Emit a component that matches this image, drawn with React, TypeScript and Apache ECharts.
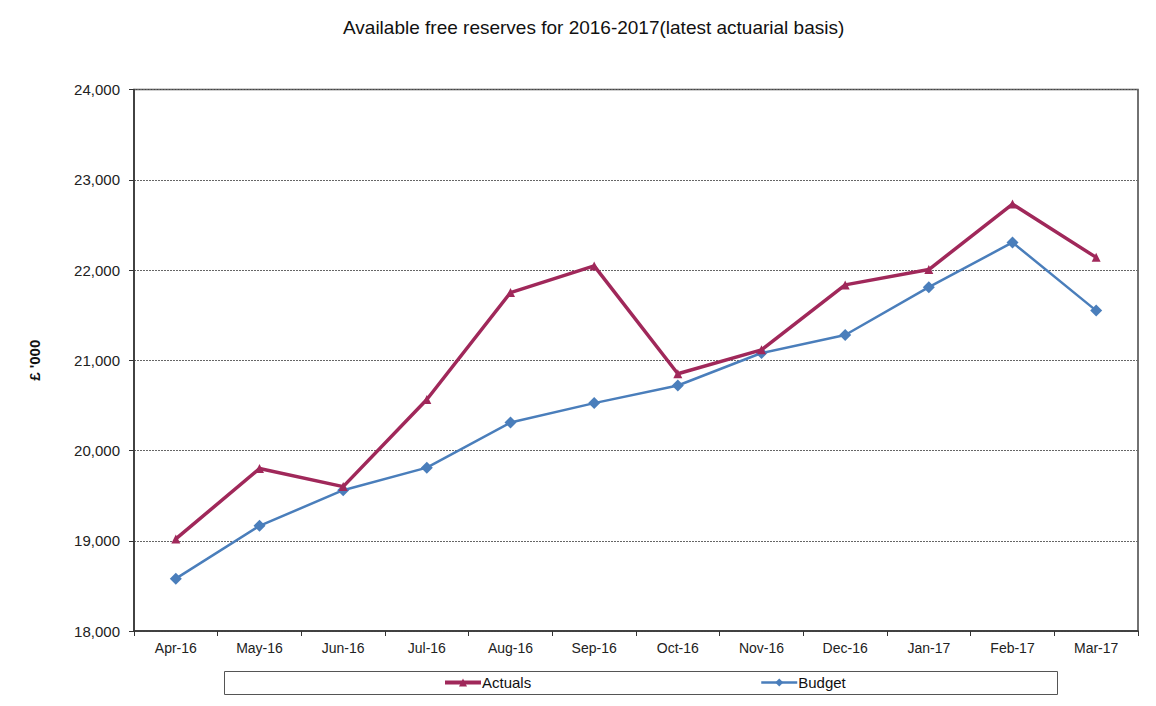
import React, { useEffect, useRef } from "react";
import * as echarts from "echarts";

const categories = ["Apr-16", "May-16", "Jun-16", "Jul-16", "Aug-16", "Sep-16", "Oct-16", "Nov-16", "Dec-16", "Jan-17", "Feb-17", "Mar-17"];
const actuals = [19020, 19800, 19600, 20565, 21750, 22045, 20850, 21115, 21835, 22005, 22730, 22140];
const budget = [18580, 19165, 19560, 19810, 20310, 20525, 20720, 21080, 21280, 21810, 22305, 21550];
const yTicks = { min: 18000, max: 24000, interval: 1000 };

const FONT = "'Liberation Sans', Arial, sans-serif";
const RED = "#A0285A";
const BLUE = "#4A7EBB";

export default function App() {
  const ref = useRef<HTMLDivElement>(null);
  useEffect(() => {
    if (!ref.current) return;
    const chart = echarts.init(ref.current, null, { renderer: "svg" });
    chart.setOption({
      animation: false,
      backgroundColor: "#fff",
      textStyle: { fontFamily: FONT },
      title: {
        text: "Available free reserves for 2016-2017(latest actuarial basis)",
        left: 338,
        top: 13,
        textStyle: { fontFamily: FONT, fontSize: 19, fontWeight: "normal", color: "#111" },
      },
      grid: {
        left: 134,
        right: 18,
        top: 89.5,
        bottom: 75,
        show: true,
        borderColor: "#444",
        borderWidth: 1.5,
        backgroundColor: "transparent",
      },
      legend: [
        {
          data: ["Actuals"],
          left: 443,
          top: 675,
          itemWidth: 36,
          itemHeight: 10,
          itemGap: 0,
          padding: 0,
          lineStyle: { width: 4 },
          textStyle: { fontFamily: FONT, fontSize: 15, color: "#111", padding: [0, 0, 0, -4] },
        },
        {
          data: ["Budget"],
          left: 760,
          top: 675,
          itemWidth: 36,
          itemHeight: 10,
          itemGap: 0,
          padding: 0,
          lineStyle: { width: 2.5 },
          textStyle: { fontFamily: FONT, fontSize: 15, color: "#111", padding: [0, 0, 0, -4] },
        },
      ],
      graphic: [
        {
          type: "rect",
          shape: { x: 224.5, y: 671.5, width: 833, height: 23 },
          style: { fill: "none", stroke: "#555", lineWidth: 1 },
          silent: true,
          z: -1,
        },
      ],
      xAxis: {
        type: "category",
        data: categories,
        boundaryGap: true,
        axisLine: { lineStyle: { color: "#333", width: 1.5 } },
        axisTick: { show: true, inside: false, length: 5, alignWithLabel: false, lineStyle: { color: "#333" } },
        axisLabel: { fontFamily: FONT, fontSize: 14, color: "#222", margin: 10 },
        splitLine: { show: false },
      },
      yAxis: {
        type: "value",
        min: yTicks.min,
        max: yTicks.max,
        interval: yTicks.interval,
        name: "£ '000",
        nameLocation: "middle",
        nameGap: 92,
        nameTextStyle: { fontFamily: FONT, fontSize: 15, fontWeight: "bold", color: "#111" },
        axisLine: { show: true, lineStyle: { color: "#333", width: 1.5 } },
        axisTick: { show: true, inside: false, length: 5, lineStyle: { color: "#333" } },
        axisLabel: {
          fontFamily: FONT,
          fontSize: 15,
          color: "#222",
          margin: 14,
          formatter: (v: number) => v.toLocaleString("en-US"),
        },
        splitLine: { show: true, lineStyle: { color: "#666", type: [2, 1], width: 1 } },
      },
      series: [
        {
          name: "Actuals",
          type: "line",
          data: actuals,
          color: RED,
          symbol: "triangle",
          symbolSize: 9,
          lineStyle: { color: RED, width: 3.5 },
          itemStyle: { color: RED },
          z: 3,
        },
        {
          name: "Budget",
          type: "line",
          data: budget,
          color: BLUE,
          symbol: "diamond",
          symbolSize: 12,
          lineStyle: { color: BLUE, width: 2.5 },
          itemStyle: { color: BLUE },
          z: 2,
        },
      ],
    });
    return () => chart.dispose();
  }, []);
  return (
    <div
      ref={ref}
      style={{ position: "fixed", left: 0, top: 0, width: 1156, height: 706, background: "#fff" }}
    />
  );
}
